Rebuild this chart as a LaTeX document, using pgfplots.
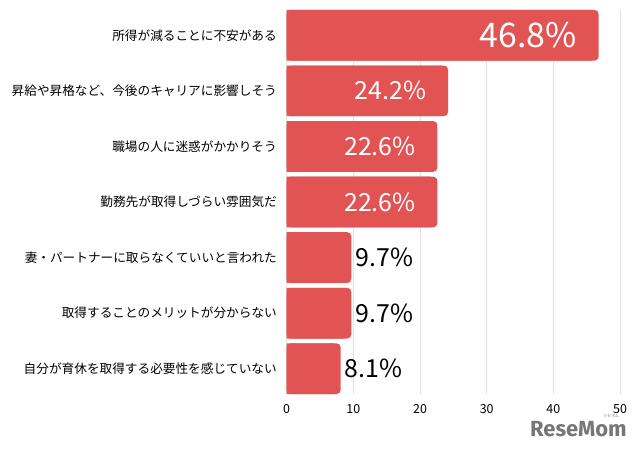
\documentclass[border=0pt]{standalone}
\usepackage{fontspec}
\setmainfont{Noto Sans CJK JP}
\newfontfamily\logofont{Fira Sans}
\usepackage{pgfplots}
\pgfplotsset{compat=1.18}
\usepackage{pgfplotstable}
\definecolor{barred}{RGB}{226,84,84}
\definecolor{gridgray}{RGB}{226,226,226}
\definecolor{logogray}{RGB}{118,118,118}

\pgfplotstableread{
y v
0 46.8
1 24.2
2 22.6
3 22.6
4 9.7
5 9.7
6 8.1
}\datatable

\begin{document}
\begin{tikzpicture}
\begin{axis}[
  at={(286.7bp,-394bp)}, anchor=south west,
  scale only axis, width=333.3bp, height=384bp,
  xmin=0, xmax=50, ymin=-0.455, ymax=6.455, y dir=reverse,
  xtick={0,10,...,50}, ytick={0,...,6},
  yticklabels={所得が減ることに不安がある,昇給や昇格など、今後のキャリアに影響しそう,職場の人に迷惑がかかりそう,勤務先が取得しづらい雰囲気だ,妻・パートナーに取らなくていいと言われた,取得することのメリットが分からない,自分が育休を取得する必要性を感じていない},
  axis line style={draw=none}, major tick length=0pt,
  xmajorgrids, grid style={gridgray, line width=0.8bp},
  /pgf/number format/assume math mode=true,
  x tick label style={font=\fontsize{12.5}{14}\selectfont, inner sep=0pt, anchor=north, yshift=-10.5bp},
  y tick label style={font=\fontsize{12.7}{14}\selectfont, inner sep=0pt, anchor=east, xshift=-9.7bp},
  clip=false,
]
\addplot[xbar, fill=barred, draw=none, rounded corners=4bp, bar width=50.7bp] table[x=v, y=y]{\datatable};
\addplot[xbar, fill=barred, draw=none, bar width=50.7bp] table[x expr=\thisrow{v}-1, y=y]{\datatable};
\addplot[draw=none, mark=none, nodes near coords, point meta=explicit symbolic,
  nodes near coords style={anchor=east, inner sep=0pt, xshift=-21.5bp, text=white, font=\fontsize{34}{34}\selectfont}]
  coordinates {(46.8,0) [46.8\%]};
\addplot[draw=none, mark=none, nodes near coords, point meta=explicit symbolic,
  nodes near coords style={anchor=east, inner sep=0pt, xshift=-21.5bp, text=white, font=\fontsize{25}{25}\selectfont}]
  coordinates {(24.2,1) [24.2\%] (22.6,2) [22.6\%] (22.6,3) [22.6\%]};
\addplot[draw=none, mark=none, nodes near coords, point meta=explicit symbolic,
  nodes near coords style={anchor=west, inner sep=0pt, xshift=4bp, text=black, font=\fontsize{25}{25}\selectfont}]
  coordinates {(9.7,4) [9.7\%] (9.7,5) [9.7\%] (8.1,6) [8.1\%]};
\end{axis}
\node[anchor=base west, inner sep=0pt, text=logogray, font=\logofont\bfseries\fontsize{22}{22}\selectfont] at (530bp,-436bp) {ReseMom};
\node[anchor=center, inner sep=0pt, text=logogray, font=\fontsize{4}{4}\selectfont] at (611bp,-416bp) {リセマム};
\pgfresetboundingbox
\path[use as bounding box] (0bp,0bp) rectangle (640bp,-451bp);
\end{tikzpicture}
\end{document}
